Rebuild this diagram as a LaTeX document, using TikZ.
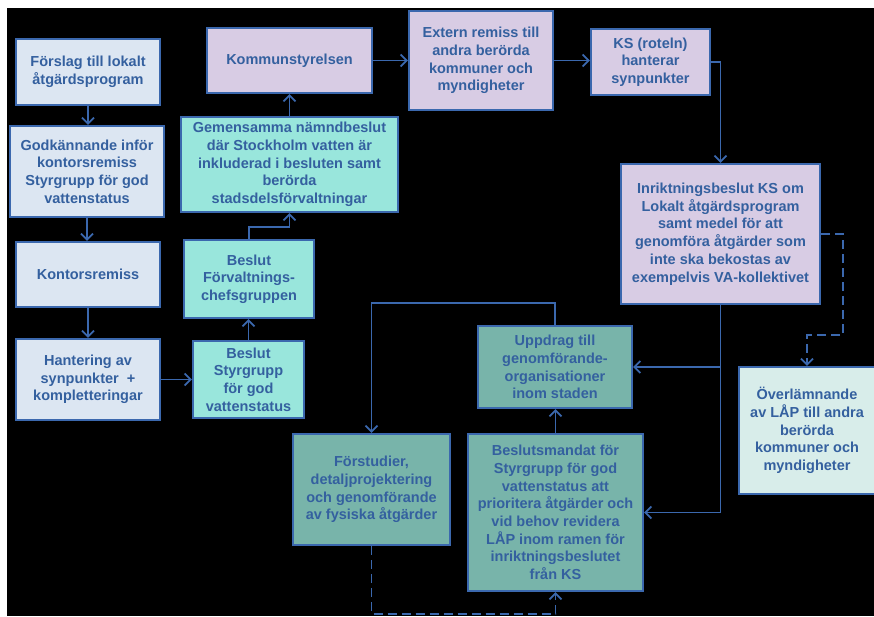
\documentclass[tikz,border=0pt]{standalone}
\usepackage{fontspec}
\setmainfont{Liberation Sans}
\usetikzlibrary{arrows.meta}
\definecolor{bcol}{HTML}{3B68AE}
\definecolor{tcol}{HTML}{34609F}
\definecolor{fblue}{HTML}{DCE6F2}
\definecolor{fpurp}{HTML}{D8CCE4}
\definecolor{fcyan}{HTML}{99E6DC}
\definecolor{fteal}{HTML}{78B4AA}
\definecolor{fpale}{HTML}{D8EDEA}
\tikzset{
  box/.style={draw=bcol, line width=2.2pt, inner sep=0pt, align=center, text=tcol,
    font=\fontsize{14.5}{17.7}\selectfont\bfseries},
  bluebox/.style={box, fill=fblue},
  purpbox/.style={box, fill=fpurp},
  cyanbox/.style={box, fill=fcyan},
  tealbox/.style={box, fill=fteal},
  palebox/.style={box, fill=fpale},
  conn/.style={draw=bcol, line width=1.8pt, -{Straight Barb[length=6pt,width=12pt,line width=1.8pt]}},
  dconn/.style={conn, dash pattern=on 9pt off 5pt},
}
\newcommand\bx[7]{\node[#6, minimum width={(#4-#2)*1pt}, minimum height={(#5-#3)*1pt}] (#1) at ({(#2+#4)/2},{(#3+#5)/2}) {#7};}
\begin{document}
\begin{tikzpicture}[x=1pt,y=-1pt]
\useasboundingbox (0,0) rectangle (874,616);
\fill[white] (0,0) rectangle (874,616);
\fill[black] (7,8) rectangle (874,616);
\bx{f1}{16}{39}{160}{105}{bluebox}{Förslag till lokalt\\åtgärdsprogram}
\bx{f2}{10}{126}{164}{217}{bluebox}{Godkännande inför\\kontorsremiss\\Styrgrupp för god\\vattenstatus}
\bx{f3}{16}{242}{160}{307}{bluebox}{Kontorsremiss}
\bx{f4}{16}{339}{160}{420}{bluebox}{Hantering av\\synpunkter \ +\\kompletteringar}
\bx{k1}{207}{28}{372}{93}{purpbox}{Kommunstyrelsen}
\bx{s3}{181}{117}{398}{212}{cyanbox}{Gemensamma nämndbeslut\\där Stockholm vatten är\\inkluderad i besluten samt\\berörda\\stadsdelsförvaltningar}
\bx{s2}{184}{240}{314}{318}{cyanbox}{Beslut\\Förvaltnings-\\chefsgruppen}
\bx{s1}{193}{341}{304}{418}{cyanbox}{Beslut\\Styrgrupp\\för god\\vattenstatus}
\bx{k2}{409}{11}{553}{110}{purpbox}{Extern remiss till\\andra berörda\\kommuner och\\myndigheter}
\bx{k3}{591}{29}{710}{95}{purpbox}{KS (roteln)\\hanterar\\synpunkter}
\bx{k4}{621}{164}{820}{304}{purpbox}{Inriktningsbeslut KS om\\Lokalt åtgärdsprogram\\samt medel för att\\genomföra åtgärder som\\inte ska bekostas av\\exempelvis VA-kollektivet}
\bx{u1}{478}{326}{632}{408}{tealbox}{Uppdrag till\\genomförande-\\organisationer\\inom staden}
\bx{b1}{468}{434}{643}{591}{tealbox}{Beslutsmandat för\\Styrgrupp för god\\vattenstatus att\\prioritera åtgärder och\\vid behov revidera\\LÅP inom ramen för\\inriktningsbeslutet\\från KS}
\bx{p1}{293}{434}{450}{545}{tealbox}{Förstudier,\\detaljprojektering\\och genomförande\\av fysiska åtgärder}
\bx{o1}{739}{367}{875}{494}{palebox}{Överlämnande\\av LÅP till andra\\berörda\\kommuner och\\myndigheter}
\path (o1.north) ++(0,-31) coordinate (d1);
% connectors
\draw[conn] (f1.south) -- (f1.south |- f2.north);
\draw[conn] (f2.south) -- (f2.south |- f3.north);
\draw[conn] (f3.south) -- (f3.south |- f4.north);
\draw[conn] (f4.east) -- (f4.east -| s1.west);
\draw[conn] (s1.north) -- (s1.north |- s2.south);
\draw[conn] (s2.north) -- ++(0,-12) -| (s3.south);
\draw[conn] (s3.north) -- (s3.north |- k1.south);
\draw[conn] (k1.east) -- (k1.east -| k2.west);
\draw[conn] (k2.east) -- (k2.east -| k3.west);
\draw[conn] (k3.east) -| (k4.north);
\draw[dconn] (k4.east) -- ++(22,0) |- (d1) -- (o1.north);
\draw[conn] (k4.south) |- (u1.east);
\draw[conn] (k4.south) |- (b1.east);
\draw[conn] (u1.north) -- ++(0,-22) -| (p1.north);
\draw[conn] (b1.north) -- (b1.north |- u1.south);
\draw[dconn] (p1.south) -- ++(0,68) -| (b1.south);
\end{tikzpicture}
\end{document}
